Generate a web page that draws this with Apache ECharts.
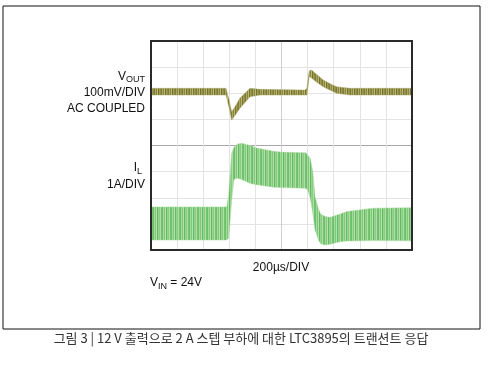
<!DOCTYPE html>
<html><head><meta charset="utf-8">
<script src="https://cdn.jsdelivr.net/npm/echarts@6/dist/echarts.min.js"></script>
<style>html,body{margin:0;padding:0;background:#fff}#c{width:494px;height:372px}</style>
</head><body><div id="c"></div>
<script>
// Time axis (µs), 200 µs/DIV, 10 divisions
var xTicks = [0,200,400,600,800,1000,1200,1400,1600,1800,2000];

// VOUT trace envelope (mV, AC coupled), 100 mV/DIV
var voutTime  = [0, 575, 598, 618, 640, 682, 759, 835, 1180, 1195, 1212, 1230, 1270, 1319, 1370, 1422, 1525, 2000];
var voutUpper = [19, 19, -26, -71, -55, -18, 19, 15, 12, 20, 86, 89, 72, 51, 37, 25, 19, 19];
var voutLower = [-7, -7, -55, -103, -88, -57, -13, -7, -7, -7, 63, 58, 42, 25, 12, 0, -7, -7];

// IL trace envelope (A, screen divisions from bottom), 1 A/DIV
var ilTime  = [0, 580, 595, 618, 635, 660, 695, 760, 810, 940, 990, 1185, 1200, 1220, 1240, 1257, 1282, 1300, 1335, 1372, 1450, 1500, 1700, 2000];
var ilUpper = [1.65, 1.65, 2.1, 3.7, 3.92, 4.05, 4.09, 4.0, 3.9, 3.78, 3.75, 3.72, 3.65, 3.5, 3.0, 2.04, 1.6, 1.38, 1.28, 1.25, 1.38, 1.47, 1.6, 1.62];
var ilLower = [0.38, 0.38, 0.45, 1.9, 2.7, 2.75, 2.7, 2.55, 2.5, 2.4, 2.39, 2.36, 2.3, 2.0, 1.4, 0.77, 0.4, 0.24, 0.19, 0.22, 0.32, 0.34, 0.36, 0.35];

function stripes(colors){
  var c = document.createElement('canvas');
  c.width = colors.length; c.height = 4;
  var g = c.getContext('2d');
  for (var i=0;i<colors.length;i++){ g.fillStyle = colors[i]; g.fillRect(i,0,1,4); }
  return {image: c, repeat: 'repeat'};
}
var voutFill = stripes(['#7d7b35','#aaa762','#878540','#bab778','#74722c','#9e9b52','#8e8c46']);
var ilFill = stripes(['#6cc069','#a5da9e','#7fc97a','#b6e1af','#63ba60','#96d390','#8ccd86','#acdea5','#74c470']);

function rows(t, up, lo){ return t.map(function(x,i){ return [x, up[i], lo[i]]; }); }

function bandSeries(data, yIdx, fill, edge){
  return {
    type: 'custom', yAxisIndex: yIdx, silent: true, clip: true,
    data: data,
    encode: {x: 0, y: [1, 2]},
    renderItem: function(params, api){
      if (params.dataIndex !== 0) return null;
      var pts = [];
      for (var i = 0; i < data.length; i++) pts.push(api.coord([data[i][0], data[i][1]]));
      for (var j = data.length - 1; j >= 0; j--) pts.push(api.coord([data[j][0], data[j][2]]));
      return {type: 'polygon', shape: {points: pts},
        style: {fill: fill, stroke: edge, lineWidth: 0.8}};
    }
  };
}

var gridCol = '#e3e3e3';
var hColors = [gridCol,gridCol,gridCol,gridCol,'#a8a8a8',gridCol,gridCol,gridCol,gridCol];
var vColors = [gridCol,gridCol,gridCol,gridCol,gridCol,'#d0d0d0',gridCol,gridCol,gridCol,gridCol,gridCol];

var font = 'Liberation Sans, Arial, sans-serif';
var chart = echarts.init(document.getElementById('c'));
chart.setOption({
  animation: false,
  backgroundColor: '#fff',
  grid: {left: 151, top: 41, width: 261, height: 209, show: true, borderColor: '#2a2a2a', borderWidth: 2, backgroundColor: 'transparent', z: 5},
  xAxis: {type: 'value', min: xTicks[0], max: xTicks[xTicks.length-1], interval: 200,
    axisLine: {show: false}, axisTick: {show: false}, axisLabel: {show: false},
    splitLine: {show: true, lineStyle: {color: vColors, width: 1}}},
  yAxis: [
    {type: 'value', min: -600, max: 200, interval: 100,
      axisLine: {show: false}, axisTick: {show: false}, axisLabel: {show: false},
      splitLine: {show: true, lineStyle: {color: hColors, width: 1}}},
    {type: 'value', min: 0, max: 8, interval: 1,
      axisLine: {show: false}, axisTick: {show: false}, axisLabel: {show: false},
      splitLine: {show: false}}
  ],
  series: [
    bandSeries(rows(voutTime, voutUpper, voutLower), 0, voutFill, 'rgba(170,168,100,0.55)'),
    bandSeries(rows(ilTime, ilUpper, ilLower), 1, ilFill, 'rgba(170,220,160,0.6)')
  ],
  graphic: [
    {type: 'rect', shape: {x: 3, y: 6, width: 477, height: 323}, style: {fill: 'none', stroke: '#111', lineWidth: 1}, z: 0},
    {type: 'text', x: 126, y: 77, style: {text: 'V', font: '12px ' + font, fill: '#111', textAlign: 'right', textVerticalAlign: 'middle'}},
    {type: 'text', x: 126, y: 80, style: {text: 'OUT', font: '9px ' + font, fill: '#111', textAlign: 'left', textVerticalAlign: 'middle'}},
    {type: 'text', x: 145, y: 93, style: {text: '100mV/DIV', font: '12px ' + font, fill: '#111', textAlign: 'right', textVerticalAlign: 'middle'}},
    {type: 'text', x: 145, y: 109, style: {text: 'AC COUPLED', font: '12px ' + font, fill: '#111', textAlign: 'right', textVerticalAlign: 'middle'}},
    {type: 'text', x: 137, y: 168, style: {text: 'I', font: '12px ' + font, fill: '#111', textAlign: 'right', textVerticalAlign: 'middle'}},
    {type: 'text', x: 137, y: 172, style: {text: 'L', font: '9px ' + font, fill: '#111', textAlign: 'left', textVerticalAlign: 'middle'}},
    {type: 'text', x: 145, y: 185, style: {text: '1A/DIV', font: '12px ' + font, fill: '#111', textAlign: 'right', textVerticalAlign: 'middle'}},
    {type: 'text', x: 281, y: 268, style: {text: '200µs/DIV', font: '12px ' + font, fill: '#111', textAlign: 'center', textVerticalAlign: 'middle'}},
    {type: 'text', x: 150, y: 283, style: {text: 'V', font: '12px ' + font, fill: '#111', textAlign: 'left', textVerticalAlign: 'middle'}},
    {type: 'text', x: 158, y: 287, style: {text: 'IN', font: '9px ' + font, fill: '#111', textAlign: 'left', textVerticalAlign: 'middle'}},
    {type: 'text', x: 167, y: 283, style: {text: ' = 24V', font: '12px ' + font, fill: '#111', textAlign: 'left', textVerticalAlign: 'middle'}},
    {type: 'text', x: 241, y: 338, style: {text: '그림 3 | 12 V 출력으로 2 A 스텝 부하에 대한 LTC3895의 트랜션트 응답', font: '13px "Noto Sans CJK KR", sans-serif', fill: '#333', textAlign: 'center', textVerticalAlign: 'middle'}}
  ]
});
</script>
</body></html>
